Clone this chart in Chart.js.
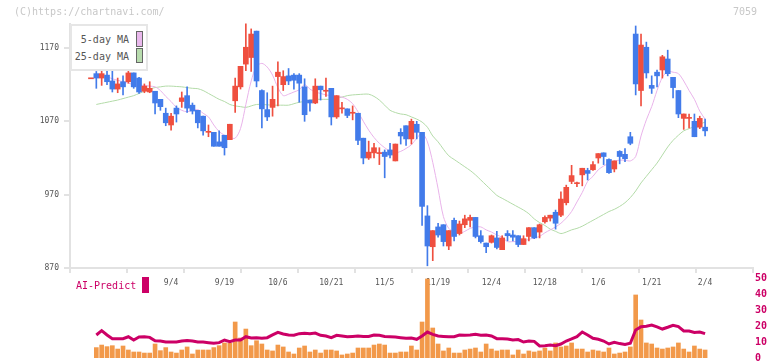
<!DOCTYPE html>
<html>
<head>
<meta charset="utf-8">
<script src="https://cdn.jsdelivr.net/npm/chart.js@4/dist/chart.umd.min.js"></script>
<style>
  body { margin: 0; background: #fff; }
  #wrap { position: relative; width: 772px; height: 361px; overflow: hidden; font-family: "DejaVu Sans Mono", monospace; }
  canvas { position: absolute; left: 0; }
  #main { top: 0; }
  #vol { top: 270px; }
  .t { position: absolute; font-size: 10px; line-height: 12px; white-space: nowrap; }
  #copy { left: 14px; top: 6px; color: #c8c8c8; }
  #code { right: 15px; top: 6px; color: #c8c8c8; }
  #legend { position: absolute; left: 70px; top: 24px; width: 74px; height: 43px; border: 2px solid #e6e6e6; background: #fff; }
  .lg { right: 643px; color: #555; }
  .sw { position: absolute; border: 1px solid #666; }
  #ai { left: 76px; top: 280px; color: #cc0066; }
  #aisw { position: absolute; left: 142px; top: 277px; width: 7px; height: 16px; background: #cc0066; }
</style>
</head>
<body>
<div id="wrap">
  <canvas id="main" width="772" height="300"></canvas>
  <canvas id="vol" width="772" height="96"></canvas>
  <div class="t" id="copy">(C)https://chartnavi.com/</div>
  <div class="t" id="code">7059</div>
  <div id="legend"></div>
  <div class="t lg" style="top:34px">5-day MA</div>
  <div class="sw" style="left:136px;top:31px;width:5px;height:14px;background:#e9b8ec"></div>
  <div class="t lg" style="top:51px">25-day MA</div>
  <div class="sw" style="left:136px;top:48px;width:5px;height:13px;background:#b8dcae"></div>
  <div class="t" id="ai">AI-Predict</div>
  <div id="aisw"></div>
</div>
<script>
// daily candles, index 0 = oldest (mid Aug), last = 2/4
var open = [1128,1135,1129,1133,1125,1114,1124,1124,1136,1129, 1111,1110,1111,1100,1081,1065,1088,1097,1105,1092,
  1085,1077,1055,1055,1042,1051,1045,1098,1117,1148, 1157,1193,1112,1086,1089,1131,1120,1132,1133,1133,
  1117,1099,1095,1118,1111,1115,1076,1087,1087,1081, 1081,1047,1020,1027,1026,1028,1031,1016,1055,1064,
  1046,1066,1055,941,899,926,929,900,935,917, 929,935,939,914,904,905,911,895,917,915,
  914,902,913,925,919,933,938,946,942,959, 988,985,997,1003,1004,1020,1027,1018,1005,1029,
  1025,1049,1189,1112,1171,1119,1137,1140,1155,1130, 1112,1074,1074,1070,1062,1062];
var high = [1128,1138,1147,1141,1144,1129,1132,1139,1136,1130, 1121,1124,1111,1100,1088,1081,1091,1110,1117,1095,
  1085,1077,1065,1055,1057,1051,1066,1129,1145,1203, 1196,1193,1113,1109,1118,1151,1139,1142,1135,1135,
  1128,1099,1128,1118,1129,1115,1105,1096,1087,1091, 1081,1047,1043,1040,1034,1031,1040,1039,1060,1064,
  1073,1070,1055,955,921,931,929,921,938,934, 942,942,939,921,904,915,920,914,921,921,
  914,914,925,925,930,941,942,949,974,983, 1010,987,1006,1006,1015,1026,1027,1019,1016,1030,
  1033,1055,1200,1189,1178,1132,1140,1160,1167,1130, 1112,1080,1080,1080,1077,1073];
var low = [1128,1115,1119,1120,1110,1109,1106,1122,1115,1108, 1109,1109,1080,1085,1064,1058,1069,1089,1082,1080,
  1061,1051,1049,1036,1036,1024,1045,1082,1114,1139, 1138,1117,1061,1071,1077,1091,1112,1120,1114,1096,
  1070,1084,1094,1099,1104,1065,1074,1081,1075,1072, 1038,1012,1018,1020,1011,993,1020,1016,1039,1037,
  1039,1046,928,873,880,912,900,895,907,915, 925,926,911,904,891,904,896,895,907,907,
  899,902,907,910,911,931,934,923,940,956, 985,981,982,990,1003,1013,1011,999,1001,1012,
  1015,1038,1106,1091,1129,1108,1117,1129,1132,1102, 1075,1059,1061,1049,1060,1050];
var close = [1128,1129,1135,1124,1114,1121,1117,1136,1117,1110, 1118,1115,1095,1090,1068,1077,1080,1102,1088,1084,
  1068,1057,1055,1036,1036,1034,1066,1118,1145,1171, 1189,1125,1087,1076,1100,1137,1131,1125,1126,1122,
  1079,1095,1118,1113,1111,1076,1105,1087,1078,1081, 1044,1020,1028,1034,1026,1022,1024,1039,1050,1046,
  1070,1055,954,900,921,915,906,921,913,930, 937,939,913,906,899,914,898,911,914,912,
  902,910,925,911,929,939,942,931,964,980, 996,985,1006,999,1011,1026,1022,1000,1016,1022,
  1019,1040,1121,1174,1136,1115,1132,1158,1135,1116, 1080,1080,1074,1049,1074,1057];

var ma5 = [null,null,null,1131,1128,1126,1124,1122,1120,1119, 1119,1118,1117,1112,1104,1097,1089,1085,1083,1085,
  1086,1081,1076,1065,1056,1051,1048,1047,1060,1093, 1125,1145,1149,1144,1133,1116,1105,1107,1110,1113,
  1120,1114,1110,1108,1106,1105,1104,1103,1100,1094, 1083,1070,1058,1048,1040,1034,1029,1027,1029,1033,
  1038,1047,1054,1042,1014,978,940,924,919,917, 920,924,926,926,922,919,915,912,906,906,
  906,907,909,911,913,918,922,926,931,938, 947,960,973,988,995,1004,1009,1013,1016,1017,
  1017,1016,1022,1050,1072,1090,1112,1130,1138,1137, 1135,1125,1112,1100,1084,1073];
var ma25 = [null,1093,1094.5,1096,1097.5,1099,1101,1103,1105,1108, 1111,1114,1116,1117,1118,1118,1117.5,1117,1116,1115,
  1114.5,1112,1108,1104,1100,1097,1093,1091,1090,1089, 1091,1093,1093,1092.5,1092,1092,1092,1092,1094,1096,
  1097,1099,1100,1100,1100,1100,1101.5,1103,1105,1106, 1106.5,1107,1107,1104,1099,1092,1085,1082,1080,1079,
  1076,1073,1069,1062,1050,1042,1032,1023,1018,1013, 1008,1003,997,990,983,976,969,965,961,957,
  953,949,944,937,932,928,923,920,917,919, 922,924,927,931,935,939,943,947,950,954,
  959,966,975,986,995,1004,1013,1024,1035,1044, 1051,1057,1060,1063,1066,1069];

// lower panel (right axis 0-50)
var volume = [null,6.5,8.1,7.1,7.7,5.6,7.5,5.0,3.75,3.75, 3.1,3.1,8.75,4.6,6.5,3.75,3.1,5.0,6.9,2.5,
  5.0,5.0,5.0,6.5,7.7,9.4,9.2,22.5,12.5,18.1, 7.7,10.8,8.75,5.0,4.4,8.1,6.9,3.75,2.5,6.25,
  7.5,3.75,5.0,3.1,5.0,5.0,4.4,1.9,2.5,3.1, 6.25,6.25,6.25,8.1,8.75,8.1,3.1,3.1,3.75,3.75,
  7.5,5.0,22.5,49.4,18.75,8.75,4.4,6.25,3.1,3.1, 5.0,5.6,6.25,3.75,8.75,5.6,4.4,5.0,5.0,1.9,
  5.0,2.5,4.4,3.75,4.4,6.25,4.4,9.4,6.9,7.5, 9.4,5.6,5.6,3.75,5.0,4.4,3.75,6.25,2.5,3.1,
  3.75,6.9,39.4,23.75,9.4,8.75,6.25,5.6,6.25,6.9, 9.4,5.6,3.75,7.5,5.6,5.0];
var aiPredict = [null,14.4,17.1,14.4,12.1,12.1,12.1,13.3,11.25,13.1, 13.3,12.9,10.8,10.6,10,10,10,10.6,11,10.6,
  10,10,9.6,9.2,9.6,11.25,10.2,11.25,11.25,13.3, 12.5,12.7,12.3,12.7,14.4,16,15,14.4,14.2,15.2,
  15.4,15.2,15.6,14.2,13.75,12.7,14.2,13.75,13.3,13.5, 13.75,13.5,13.5,14.4,14.2,13.5,13.3,13.1,12.7,12.3,
  12.5,11.7,13.75,16.25,14.8,13.75,13.5,13.3,13.3,14.4, 14.2,14.4,14.8,14.2,14.4,13.75,12.1,12.1,11.9,11.25,
  11.5,10,10.6,10.4,7.5,7.7,8.1,7.7,8.75,10.6, 11.9,13.3,16.25,14.4,12.3,11.7,10.6,8.75,9.8,9.0,
  8.5,9.2,17.5,19.6,19.8,20.6,19.4,18.1,19.2,20.4, 19.6,16.9,16.9,16,16.25,15.2];

var tickIdx = [15, 25, 35, 45, 55, 65, 75, 85, 95, 105, 115];
var tickLabels = ["9/4", "9/19", "10/6", "10/21", "11/5", "11/19", "12/4", "12/18", "1/6", "1/21", "2/4"];
var yTicks = [870, 970, 1070, 1170];

(function () {
  Chart.defaults.font.family = '"DejaVu Sans Mono", monospace';
  var RED = "#ef4f3f", BLUE = "#427bea", AXIS = "#e2e2e2";
  var X_MIN = -3.93, X_MAX = 123.97;

  var colors = open.map(function (o, i) { return close[i] >= o ? RED : BLUE; });
  var pts = function (arr) { return arr.map(function (v, i) { return { x: i, y: v }; }); };

  // price panel
  new Chart(document.getElementById("main"), {
    type: "bar",
    data: {
      datasets: [
        {
          label: "body",
          data: open.map(function (o, i) { return { x: i, y: [o, close[i]] }; }),
          backgroundColor: colors,
          barThickness: 5,
          minBarLength: 1,
          grouped: false,
          xAxisID: "x",
          clip: false,
          order: 1,
        },
        {
          label: "wick",
          data: low.map(function (l, i) { return { x: i, y: [l, high[i]] }; }),
          backgroundColor: colors,
          barThickness: 1,
          grouped: false,
          xAxisID: "x",
          clip: false,
          order: 2,
        },
        { type: "line", label: "5-day MA", data: pts(ma5), xAxisID: "x", borderColor: "#e9b3ea", borderWidth: 1, pointRadius: 0, tension: 0.3, order: 3 },
        { type: "line", label: "25-day MA", data: pts(ma25), xAxisID: "x", borderColor: "#b3dba8", borderWidth: 1, pointRadius: 0, tension: 0.3, order: 4 },
      ],
    },
    options: {
      responsive: false,
      animation: false,
      devicePixelRatio: 1,
      layout: { padding: { left: 0, right: 19, top: 24, bottom: 0 } },
      plugins: { legend: { display: false }, tooltip: { enabled: false } },
      scales: {
        x: {
          type: "linear", min: X_MIN, max: X_MAX, position: "bottom", weight: 1, offset: false,
          grid: { display: false, drawTicks: false }, border: { display: false },
          afterBuildTicks: function (s) { s.ticks = tickIdx.map(function (v) { return { value: v }; }); },
          ticks: {
            autoSkip: false, maxRotation: 0, padding: 4, color: "#555", font: { size: 8 },
            callback: function (v, i) { return tickLabels[i]; },
          },
          afterFit: function (s) { s.height = 26; },
        },
        xt: {
          type: "linear", min: 0, max: 11, position: "bottom", weight: 0,
          ticks: { display: false, stepSize: 1 },
          grid: { drawOnChartArea: false, tickLength: 5, color: AXIS, lineWidth: 2 },
          border: { color: AXIS, width: 2 },
          afterFit: function (s) { s.height = 6; },
        },
        y: {
          min: 870, max: 1202.7,
          afterBuildTicks: function (s) { s.ticks = yTicks.map(function (v) { return { value: v }; }); },
          ticks: { padding: 5, color: "#555", font: { size: 8 }, callback: function (v) { return String(v); } },
          grid: { drawOnChartArea: false, tickLength: 6, color: AXIS, lineWidth: 2 },
          border: { color: AXIS, width: 2 },
          afterFit: function (s) { s.width = 70; },
        },
      },
    },
  });

  // volume + AI-Predict panel
  new Chart(document.getElementById("vol"), {
    type: "bar",
    data: {
      datasets: [
        { type: "line", label: "AI-Predict", data: pts(aiPredict), borderColor: "#cc0066", borderWidth: 3, pointRadius: 0, order: 1 },
        { label: "Volume", data: pts(volume), backgroundColor: "#f2994a", barThickness: 4, order: 2 },
      ],
    },
    options: {
      responsive: false,
      animation: false,
      devicePixelRatio: 1,
      layout: { padding: { left: 70, right: 0, top: 8, bottom: 8 } },
      plugins: { legend: { display: false }, tooltip: { enabled: false } },
      scales: {
        x: { type: "linear", min: X_MIN, max: X_MAX, offset: false, display: false },
        y: {
          position: "right", min: 0, max: 50,
          ticks: { stepSize: 10, padding: 2, color: "#cc0066", font: { size: 10, weight: "bold" } },
          grid: { display: false, drawTicks: false, tickLength: 0 }, border: { display: false },
          afterFit: function (s) { s.width = 19; },
        },
      },
    },
  });
})();
</script>
</body>
</html>
